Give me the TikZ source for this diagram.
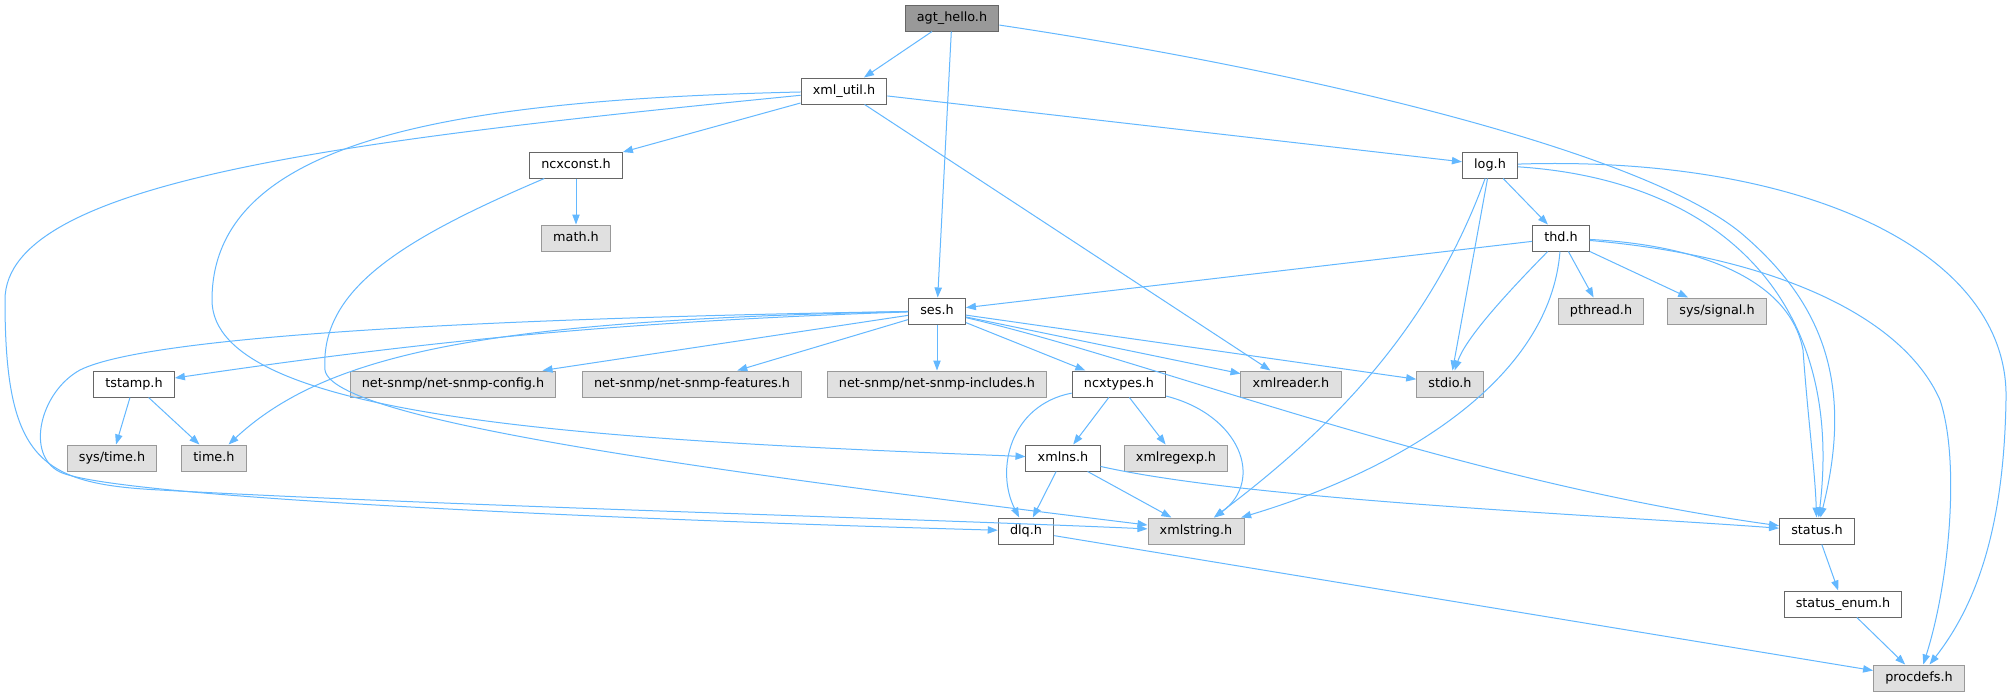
\documentclass[tikz,border=0pt]{standalone}
\usepackage{fontspec}
\setmainfont{DejaVu Sans}
\usetikzlibrary{arrows.meta}

\definecolor{edgeblue}{HTML}{63B8FF}
\definecolor{rootfill}{HTML}{999999}
\definecolor{boxline}{HTML}{666666}
\definecolor{extfill}{HTML}{E0E0E0}
\definecolor{extline}{HTML}{999999}

\begin{document}
\begin{tikzpicture}[
            x = 0.75pt, y = -0.75pt, % one unit per pixel, y downwards
            > = {Triangle[length=7.5pt, width=5.5pt]}, % arrow head style
            line width = 0.75pt
        ]

        \tikzstyle{file}=[
            draw = boxline,
            fill = white,
            rectangle,
            line width = 0.75pt,
            minimum height = 19.5pt,
            inner xsep = 8.8pt,
            inner ysep = 0pt,
            text height = 7.2pt,
            text depth = 2pt,
            font = \fontsize{9.6}{11.5}\selectfont
        ]
        \tikzstyle{root}=[file, fill = rootfill]
        \tikzstyle{ext}=[file, draw = extline, fill = extfill]
        \tikzstyle{dep}=[->, draw = edgeblue, fill = none]

        \fill[white] (0,0) rectangle (2011,696);
        \useasboundingbox (0,0) rectangle (2011,696);

        % files
        \node[root] (agt) at (952,18) {agt\_hello.h};
        \node[file] (xmlutil) at (844,91) {xml\_util.h};
        \node[file] (ncxconst) at (576,165) {ncxconst.h};
        \node[ext] (math) at (576,238) {math.h};
        \node[file] (log) at (1490,165) {log.h};
        \node[file] (thd) at (1561,238) {thd.h};
        \node[file] (ses) at (937,311) {ses.h};
        \node[ext] (pthread) at (1601,311) {pthread.h};
        \node[ext] (syssignal) at (1717,311) {sys/signal.h};
        \node[file] (tstamp) at (134,384) {tstamp.h};
        \node[ext] (snmpconfig) at (453,384) {net-snmp/net-snmp-config.h};
        \node[ext] (snmpfeatures) at (692,384) {net-snmp/net-snmp-features.h};
        \node[ext] (snmpincludes) at (937,384) {net-snmp/net-snmp-includes.h};
        \node[file] (ncxtypes) at (1119,384) {ncxtypes.h};
        \node[ext] (xmlreader) at (1291,384) {xmlreader.h};
        \node[ext] (stdio) at (1450,384) {stdio.h};
        \node[ext] (systime) at (112,458) {sys/time.h};
        \node[ext] (time) at (214,458) {time.h};
        \node[file] (xmlns) at (1063,458) {xmlns.h};
        \node[ext] (xmlregexp) at (1176,458) {xmlregexp.h};
        \node[file] (dlq) at (1026,531) {dlq.h};
        \node[ext] (xmlstring) at (1196,531) {xmlstring.h};
        \node[file] (status) at (1817,531) {status.h};
        \node[file] (statusenum) at (1843,604) {status\_enum.h};
        \node[ext] (procdefs) at (1919,678) {procdefs.h};

        % straight includes
        \draw[dep] (agt) -- (xmlutil);
        \draw[dep] (agt) -- (ses);
        \draw[dep] (xmlutil) -- (ncxconst);
        \draw[dep] (xmlutil) -- (log);
        \draw[dep] (xmlutil) -- (xmlreader);
        \draw[dep] (ncxconst) -- (math);
        \draw[dep] (log) -- (thd);
        \draw[dep] (log) -- (stdio);
        \draw[dep] (thd) -- (ses);
        \draw[dep] (thd) -- (pthread);
        \draw[dep] (thd) -- (syssignal);
        \draw[dep] (ses) -- (snmpconfig);
        \draw[dep] (ses) -- (snmpfeatures);
        \draw[dep] (ses) -- (snmpincludes);
        \draw[dep] (ses) -- (ncxtypes);
        \draw[dep] (ses) -- (xmlreader);
        \draw[dep] (ses) -- (stdio);
        \draw[dep] (tstamp) -- (systime);
        \draw[dep] (tstamp) -- (time);
        \draw[dep] (ncxtypes) -- (xmlns);
        \draw[dep] (ncxtypes) -- (xmlregexp);
        \draw[dep] (xmlns) -- (dlq);
        \draw[dep] (xmlns) -- (xmlstring);
        \draw[dep] (dlq) -- (procdefs);
        \draw[dep] (status) -- (statusenum);
        \draw[dep] (statusenum) -- (procdefs);

        % curved includes
        \draw[dep] (agt) .. controls (1300,70) and (1640,150) .. (1741,233)
            .. controls (1820,300) and (1855,380) .. (status);
        \draw[dep] (log) .. controls (1720,180) and (1845,300) .. (status);
        \draw[dep] (thd) .. controls (1700,245) and (1790,280) .. (1803,350)
            .. controls (1808,420) and (1815,470) .. (status);
        \draw[dep] (log) .. controls (1800,155) and (2010,250) .. (2006,400)
            .. controls (2004,520) and (1980,600) .. (procdefs);
        \draw[dep] (thd) .. controls (1760,255) and (1900,310) .. (1940,400)
            .. controls (1960,460) and (1950,580) .. (procdefs);
        \draw[dep] (xmlutil) .. controls (450,100) and (212,140) .. (212,300)
            .. controls (212,420) and (600,440) .. (xmlns);
        \draw[dep] (xmlutil) .. controls (350,140) and (5,180) .. (5,300)
            .. controls (5,460) and (40,484) .. (160,490)
            .. controls (450,506) and (900,518) .. (xmlstring);
        \draw[dep] (ses) .. controls (500,318) and (150,335) .. (80,370)
            .. controls (40,392) and (25,455) .. (60,472)
            .. controls (120,500) and (700,522) .. (dlq);
        \draw[dep] (ncxconst) .. controls (400,240) and (320,290) .. (325,370)
            .. controls (332,420) and (700,470) .. (xmlstring);
        \draw[dep] (ses) .. controls (500,320) and (330,350) .. (time);
        \draw[dep] (ses) .. controls (600,322) and (400,345) .. (tstamp);
        \draw[dep] (ses) .. controls (1150,360) and (1450,480) .. (status);
        \draw[dep] (thd) .. controls (1500,300) and (1465,340) .. (stdio);
        \draw[dep] (log) .. controls (1430,330) and (1330,430) .. (xmlstring);
        \draw[dep] (thd) .. controls (1550,380) and (1400,470) .. (xmlstring);
        \draw[dep] (ncxtypes) .. controls (1010,405) and (995,470) .. (dlq);
        \draw[dep] (ncxtypes) .. controls (1240,415) and (1265,480) .. (xmlstring);
        \draw[dep] (xmlns) .. controls (1250,500) and (1600,515) .. (status);

    \end{tikzpicture}
\end{document}
